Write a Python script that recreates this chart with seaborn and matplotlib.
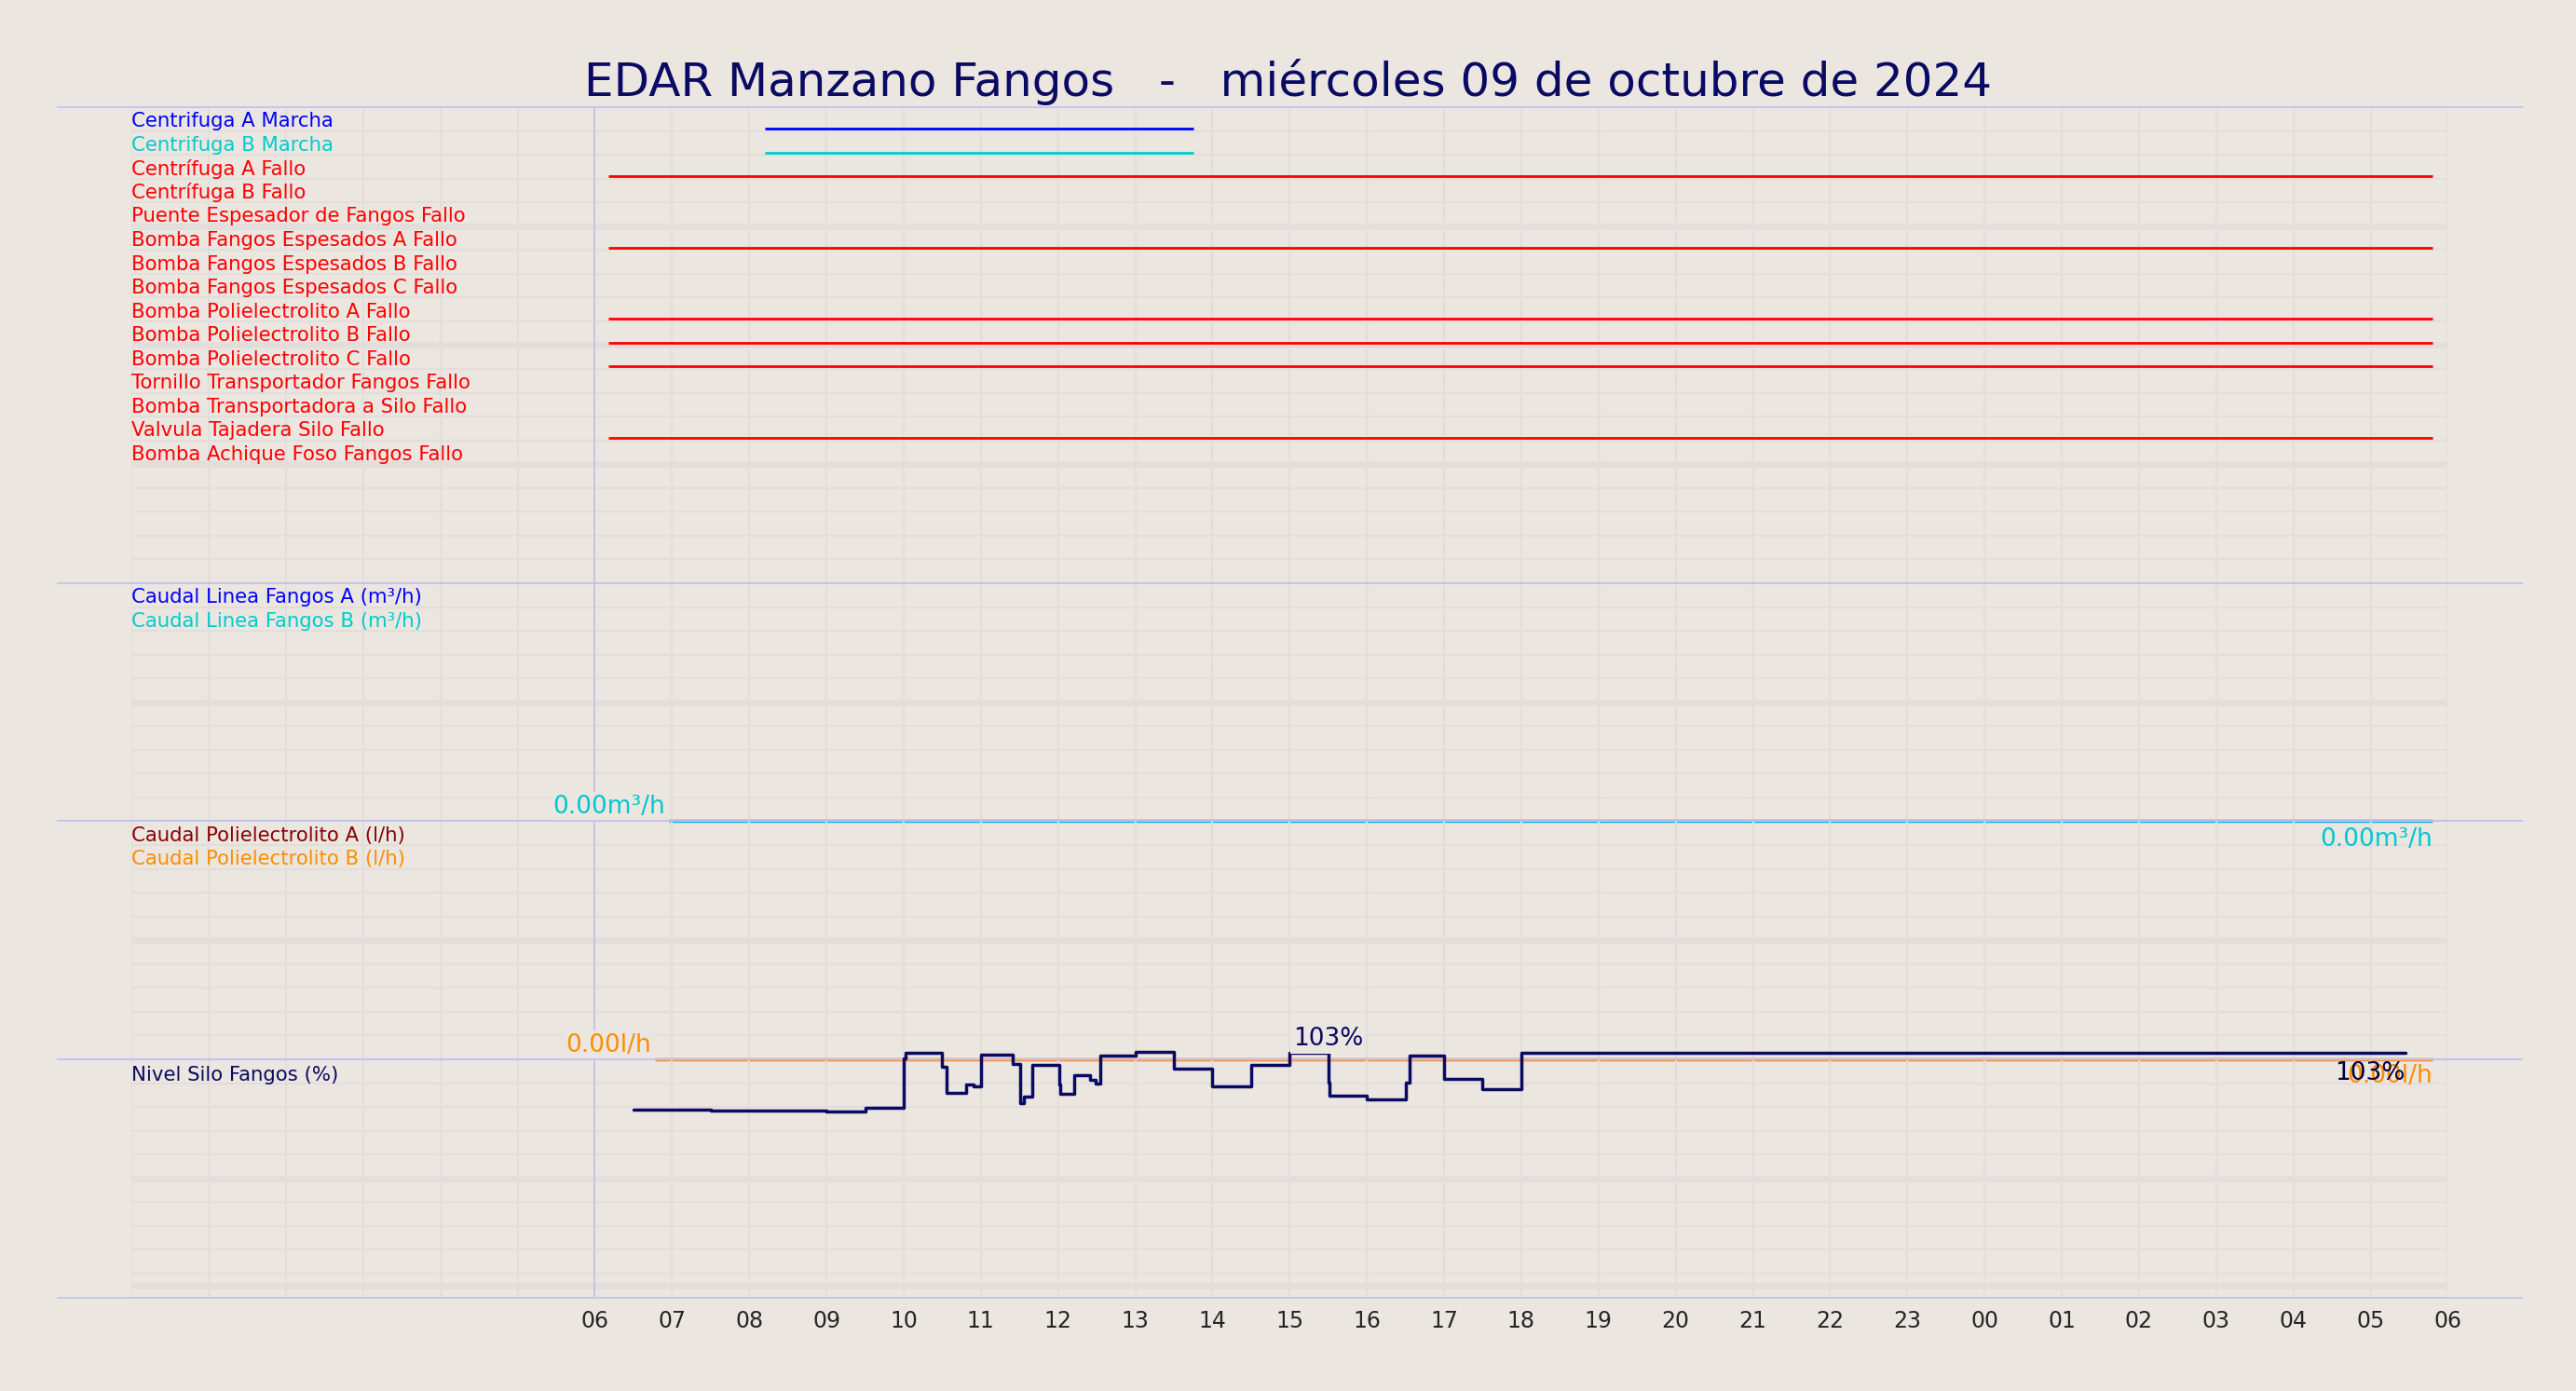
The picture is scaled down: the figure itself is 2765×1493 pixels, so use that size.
import numpy as np
import pandas as pd
import seaborn as sns
import matplotlib.pyplot as plt

# Signals (top panel)
signal_names = [
    "Centrifuga A Marcha", "Centrifuga B Marcha", "Centrífuga A Fallo", "Centrífuga B Fallo",
    "Puente Espesador de Fangos Fallo", "Bomba Fangos Espesados A Fallo",
    "Bomba Fangos Espesados B Fallo", "Bomba Fangos Espesados C Fallo",
    "Bomba Polielectrolito A Fallo", "Bomba Polielectrolito B Fallo",
    "Bomba Polielectrolito C Fallo", "Tornillo Transportador Fangos Fallo",
    "Bomba Transportadora a Silo Fallo", "Valvula Tajadera Silo Fallo",
    "Bomba Achique Foso Fangos Fallo",
]
signal_colors = ["#0000ff", "#00cccc"] + ["#ff0000"] * 13
# (row, start hour, end hour), hours counted from 00 of 09/10
signal_on_row = [0, 1, 2, 5, 8, 9, 10, 13]
signal_on_start = [8.2, 8.2, 6.17, 6.17, 6.17, 6.17, 6.17, 6.17]
signal_on_end = [13.75, 13.75, 29.8, 29.8, 29.8, 29.8, 29.8, 29.8]

# Caudal lines
caudal_fangos_start, caudal_fangos_end, caudal_fangos_val = 6.96, 29.8, 0.0
caudal_poli_start, caudal_poli_end, caudal_poli_val = 6.78, 29.8, 0.0

# Nivel silo (%), step series
silo_hours = [6.5, 7.5, 9.0, 9.5, 10.0, 10.02, 10.5, 10.55, 10.81, 10.91, 11.0, 11.41, 11.51,
              11.56, 11.66, 12.01, 12.03, 12.21, 12.41, 12.49, 12.55, 13.0, 13.5, 14.0, 14.5,
              15.0, 15.5, 15.52, 16.0, 16.5, 16.55, 17.0, 17.5, 18.0, 29.45]
silo_vals = [78.7, 78.4, 78.1, 79.7, 100.4, 102.9, 96.7, 85.9, 89.4, 88.5, 102.0, 98.0, 81.5,
             84.4, 97.5, 89.6, 85.4, 93.4, 91.5, 90.0, 101.6, 103.0, 96.1, 88.7, 97.7,
             102.9, 90.2, 84.6, 83.0, 90.2, 101.7, 91.9, 87.6, 102.9, 102.9]

hour_ticks = list(range(0, 31))
hour_labels = ["" if h < 6 else f"{h % 24:02d}" for h in hour_ticks]

BG = "#ebe6e0"
GRID = "#e3dddb"
SPINE = "#c0c0f0"
NAVY = "#0a0a64"
LFS = 15.3

sns.set_theme(style="white")
plt.rcParams["font.family"] = ["DejaVu Sans"]

fig = plt.figure(figsize=(27.65, 14.93), dpi=100, facecolor=BG)
gs = fig.add_gridspec(4, 1, height_ratios=[2, 1, 1, 1], hspace=0,
                      left=0.0223, right=0.979, top=0.923, bottom=0.0673)
axes = [fig.add_subplot(gs[i]) for i in range(4)]
nrows = [20, 10, 10, 10]

for ax, n in zip(axes, nrows):
    ax.set_facecolor("none")
    ax.set_xlim(-0.96, 30.96)
    ax.set_ylim(0, n)
    ax.set_xticks(hour_ticks)
    ax.set_yticks(range(n + 1))
    ax.tick_params(length=0, labelleft=False, labelbottom=False)
    ax.grid(True, color=GRID, lw=1.5)
    for k in range(5, n, 5):
        ax.axhline(k, color=GRID, lw=5, zorder=0.5)
    for side in ["left", "right"]:
        ax.spines[side].set_visible(False)
    for side in ["top", "bottom"]:
        ax.spines[side].set_color(SPINE)
        ax.spines[side].set_linewidth(1.2)
    ax.axvline(6, color=SPINE, lw=1.2)
    # grid only inside the 0..30 h range
    ax.axvspan(-0.96, 0, color=BG, zorder=0.8, lw=0)
    ax.axvspan(30, 30.96, color=BG, zorder=0.8, lw=0)

# top panel: rows drawn top-down
ax0 = axes[0]
ax0.invert_yaxis()
for i, (name, c) in enumerate(zip(signal_names, signal_colors)):
    ax0.text(0, i + 0.6, name, color=c, fontsize=LFS, va="center", ha="left", zorder=3)
sig = pd.DataFrame({"row": signal_on_row, "start": signal_on_start, "end": signal_on_end})
for r, s, e in sig.itertuples(index=False):
    ax0.hlines(r + 0.9, s, e, color=signal_colors[r], lw=2, zorder=3)

# caudal fangos
ax1 = axes[1]
ax1.text(0, 9.4, "Caudal Linea Fangos A (m³/h)", color="#0000ff", fontsize=LFS, va="center")
ax1.text(0, 8.4, "Caudal Linea Fangos B (m³/h)", color="#00cccc", fontsize=LFS, va="center")
ax1.hlines(caudal_fangos_val, caudal_fangos_start, caudal_fangos_end, color="#00b0e0", lw=2.5,
           zorder=3, clip_on=False)
ax1.text(caudal_fangos_start - 0.05, caudal_fangos_val + 0.6, f"{caudal_fangos_val:.2f}m³/h",
         color="#00c8d0", fontsize=19, ha="right", va="center", zorder=4,
         bbox=dict(facecolor=BG, edgecolor="none", pad=2))

# caudal polielectrolito
ax2 = axes[2]
ax2.text(0, 9.4, "Caudal Polielectrolito A (l/h)", color="#8b0000", fontsize=LFS, va="center")
ax2.text(0, 8.4, "Caudal Polielectrolito B (l/h)", color="#ff8c00", fontsize=LFS, va="center")
ax2.text(caudal_fangos_end, 9.25, f"{caudal_fangos_val:.2f}m³/h", color="#00c8d0", fontsize=19,
         ha="right", va="center", zorder=6)
ax2.hlines(caudal_poli_val, caudal_poli_start, caudal_poli_end, color="#f08a30", lw=2.5,
           zorder=5, clip_on=False)
ax2.text(caudal_poli_start - 0.05, caudal_poli_val + 0.6, f"{caudal_poli_val:.2f}l/h",
         color="#ff8c00", fontsize=19, ha="right", va="center", zorder=4,
         bbox=dict(facecolor=BG, edgecolor="none", pad=2))

# nivel silo
ax3 = axes[3]
ax3.set_ylim(0, 100)
ax3.set_yticks(range(0, 101, 10))
ax3.axhline(50, color=GRID, lw=5, zorder=0.5)
ax3.text(0, 93.5, "Nivel Silo Fangos (%)", color=NAVY, fontsize=LFS, va="center")
silo = pd.DataFrame({"h": silo_hours, "v": silo_vals})
ax3.step(silo["h"], silo["v"], where="post", color=NAVY, lw=2.5, zorder=3, clip_on=False)
ax3.text(15.5, 108.5, f"{silo['v'].max():.0f}%", color=NAVY, fontsize=19, ha="center",
         va="center", zorder=4, clip_on=False, bbox=dict(facecolor=BG, edgecolor="none", pad=2))
ax3.text(caudal_poli_end, 93, f"{caudal_poli_val:.2f}l/h", color="#ff8c00", fontsize=19,
         ha="right", va="center", zorder=3, clip_on=False)
ax3.text(silo_hours[-1], 94, f"{silo_vals[-1]:.0f}%", color="#000040", fontsize=19,
         ha="right", va="center", zorder=4)

ax3.tick_params(labelbottom=True, labelsize=17, pad=10)
ax3.set_xticklabels(hour_labels)

fig.suptitle("EDAR Manzano Fangos   -   miércoles 09 de octubre de 2024", color=NAVY,
             fontsize=36, y=0.958)

plt.savefig("out.png", dpi=100, facecolor=BG)
